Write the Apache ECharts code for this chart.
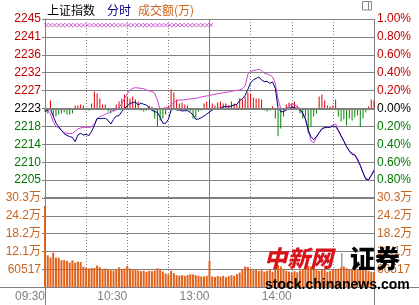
<!DOCTYPE html>
<html><head><meta charset="utf-8">
<script src="https://cdn.jsdelivr.net/npm/echarts@6/dist/echarts.min.js"></script>
<style>html,body{margin:0;padding:0;background:#fff;}#c{width:419px;height:305px;}</style>
</head><body><div id="c"></div>
<script>
// ---------- data ----------
const prevClose = 2223.0;          // reference level (0.00%)
const stepMinutes = 2;             // sampling step of the arrays below (from 09:30)
const priceLine = [
 2222.21,2222.63,2222.79,2221.14,2219.40,2218.49,2217.58,2216.75,2216.33,2216.00,
 2215.84,2214.76,2216.42,2216.83,2216.42,2216.58,2216.25,2217.33,2218.74,2220.56,
 2220.47,2220.56,2220.56,2220.06,2219.15,2220.31,2221.14,2221.22,2222.21,2223.04,
 2223.62,2224.28,2224.45,2224.61,2223.87,2224.37,2224.04,2223.87,2223.12,2222.54,
 2222.21,2222.05,2220.81,2219.32,2219.32,2220.31,2222.63,2223.04,2222.63,2222.63,
 2222.38,2222.46,2222.46,2222.05,2221.39,2220.31,2220.39,2220.72,2221.14,2221.63,
 2222.13,2222.63,2222.88,2223.04,2223.04,2223.46,2223.46,2223.46,2223.62,2223.87,
 2224.04,2224.95,2225.44,2226.27,2227.76,2229.42,2230.08,2230.49,2230.82,2230.08,
 2229.67,2229.75,2229.25,2229.58,2228.01,2223.21,2222.21,2222.21,2222.63,2222.96,
 2223.37,2223.21,2222.96,2222.63,2221.88,2220.39,2217.66,2216.00,2215.26,2216.00,
 2216.99,2217.99,2218.32,2218.32,2218.32,2218.65,2218.49,2217.49,2216.25,2214.93,
 2213.52,2212.44,2211.61,2211.45,2210.21,2208.80,2207.06,2205.41,2205.25,2206.32,
 2207.48];
const indexLine = [
 2222.63,2222.46,2221.63,2219.73,2218.57,2218.16,2217.58,2217.00,2216.83,2216.75,
 2216.83,2217.33,2217.91,2218.16,2218.32,2218.32,2218.32,2218.40,2219.23,2220.39,
 2220.97,2221.30,2221.55,2221.88,2222.30,2222.46,2222.63,2223.29,2224.20,2225.44,
 2226.68,2227.60,2228.01,2228.18,2228.09,2228.01,2227.93,2227.60,2227.35,2227.26,
 2226.77,2225.11,2222.79,2223.04,2223.21,2223.12,2223.87,2224.45,2225.03,2225.11,
 2225.11,2225.19,2225.28,2225.36,2225.53,2225.53,2225.69,2225.86,2226.02,2226.11,
 2226.19,2226.44,2226.52,2226.68,2226.77,2226.93,2227.02,2227.10,2227.26,2227.43,
 2227.51,2227.60,2227.93,2228.59,2231.57,2232.23,2232.40,2232.56,2232.73,2232.40,
 2231.74,2231.57,2231.32,2230.82,2229.25,2225.28,2222.96,2222.63,2222.96,2223.70,
 2224.12,2224.04,2223.37,2223.04,2221.63,2220.39,2217.66,2215.01,2214.43,2215.92,
 2216.99,2217.82,2218.16,2218.32,2218.49,2218.90,2219.15,2217.66,2216.00,2214.84,
 2213.52,2212.44,2211.95,2211.53,2210.62,2208.97,2207.06,2205.66,2205.33,2206.49,
 2207.89];
const strength = [
 -3,-5,8,-7,-8,-6,-5,-4,-6,-6,
 -5,3,3,4,3,-2,-2,5,17,15,
 10,4,4,-3,-5,-3,4,7,10,14,
 12,10,12,9,7,-2,-3,-2,3,2,
 -10,-18,-12,-10,-6,3,19,16,9,5,
 6,4,3,-3,-10,-9,-3,-2,5,7,
 9,5,3,6,7,5,5,3,7,5,
 4,10,9,12,16,15,11,10,10,9,
 -2,-3,-2,2,-10,-28,-20,-8,4,6,
 5,7,3,-5,-10,-8,-25,-18,-8,-5,
 12,14,8,3,2,3,9,-8,-13,-11,
 -17,-10,-12,-9,-7,-18,-10,-4,2,9,
 8];
const volume = [
 275700,107600,99700,116600,99700,99700,90800,91900,88500,82900,
 90800,82900,86300,85200,69500,65000,62800,65000,65000,72800,
 67200,58300,62800,60500,57200,56000,60500,67200,58300,62800,
 71700,62800,58300,60500,56000,53800,54900,51500,54900,53800,
 56000,63900,58300,52700,46000,42600,54900,47100,40300,38100,
 40300,38100,40300,43700,42600,40300,38100,35900,35900,38100,
 88500,36000,34000,37000,35000,38000,33000,37000,40000,38000,
 44000,49000,60000,70000,68000,62000,57000,60000,54000,57000,
 52000,55000,60000,52000,58000,75000,70000,62000,55000,52000,
 50000,54000,50000,56000,60000,66000,72000,70000,62000,58000,
 55000,60000,58000,52000,55000,58000,60000,62000,66000,70000,
 64000,60000,58000,62000,60000,66000,62000,58000,55000,52000,
 50000];
const markerMinutes = [1,4,7,10,13,16,19,22,25,28,31,34,37,40,43,46,49,52,55,58,61,64,67,70,73,76,79,82,85,88,91,94,97,100,103,106,109,112,115,118,121];
const markerLevel = 2243.7;
const priceTickLabels = ['', '2205', '2210', '2214', '2218', '2223', '2227', '2232', '2236', '2241', '2245'];
const pctTickLabels = ['', '0.80%', '0.60%', '0.40%', '0.20%', '0.00%', '0.20%', '0.40%', '0.60%', '0.80%', '1.00%'];
const volTickLabels = ['', '60517', '12.1万', '18.2万', '24.2万', '30.3万'];
const volStep = 60517;
const timeTickMinutes = [0, 60, 120, 180];
const timeTickLabels = ['09:30', '10:30', '13:00', '14:00'];

// ---------- chart ----------
const RED = '#c00000', GREEN = '#007800', GRAY = '#808080', ORANGE = '#c8641e';
const FONT = '"Liberation Sans", Arial, "Noto Sans CJK SC", sans-serif';
const toPct = p => (p / prevClose - 1) * 100;
const xOf = i => i * stepMinutes;
const pctIdx = v => Math.round((v + 1) / 0.2);
const colorOf = v => v > 0.001 ? RED : (v < -0.001 ? GREEN : '#000');

const chart = echarts.init(document.getElementById('c'), null, {renderer: 'canvas'});
const gridRect = {left: 45, width: 329};
const option = {
  animation: false,
  backgroundColor: '#fff',
  grid: [
    Object.assign({top: 19, height: 179}, gridRect),
    Object.assign({top: 198, height: 89}, gridRect)
  ],
  xAxis: [
    {type: 'value', gridIndex: 0, min: 0, max: 240, interval: 30, position: 'bottom',
     axisLine: {show: true, onZero: false, lineStyle: {color: GRAY, width: 2}},
     axisTick: {show: false}, axisLabel: {show: false},
     splitLine: {show: true, lineStyle: {color: GRAY, type: [1, 2], width: 1}}},
    {type: 'value', gridIndex: 0, min: 0, max: 240, interval: 120, position: 'top',
     axisLine: {show: false}, axisTick: {show: false}, axisLabel: {show: false},
     splitLine: {show: true, lineStyle: {color: GRAY, width: 1}}},
    {type: 'value', gridIndex: 1, min: 0, max: 240, interval: 30, position: 'bottom',
     axisLine: {show: true, onZero: false, lineStyle: {color: GRAY, width: 1}},
     axisTick: {show: false},
     axisLabel: {show: true, align: 'right', margin: 4, color: GRAY, fontSize: 12, fontFamily: FONT,
       formatter: v => { const k = timeTickMinutes.indexOf(Math.round(v)); return k >= 0 ? timeTickLabels[k] : ''; }},
     splitLine: {show: true, lineStyle: {color: GRAY, type: [1, 2], width: 1}}},
    {type: 'value', gridIndex: 1, min: 0, max: 240, interval: 120, position: 'top',
     axisLine: {show: false}, axisTick: {show: false}, axisLabel: {show: false},
     splitLine: {show: true, lineStyle: {color: GRAY, width: 1}}}
  ],
  yAxis: [
    {type: 'value', gridIndex: 0, position: 'left', min: -1, max: 1, interval: 0.2,
     axisLine: {show: true, lineStyle: {color: GRAY}}, axisTick: {show: true, length: 3, lineStyle: {color: GRAY}},
     splitLine: {show: true, lineStyle: {color: GRAY, width: 1}},
     axisLabel: {margin: 4, fontSize: 12, fontFamily: FONT, formatter: v => priceTickLabels[pctIdx(v)] || '', color: v => colorOf(v)}},
    {type: 'value', gridIndex: 0, position: 'right', min: -1, max: 1, interval: 0.2,
     axisLine: {show: true, lineStyle: {color: GRAY}}, axisTick: {show: true, length: 3, lineStyle: {color: GRAY}},
     splitLine: {show: false},
     axisLabel: {margin: 3, fontSize: 12, fontFamily: FONT, formatter: v => pctTickLabels[pctIdx(v)] || '', color: v => colorOf(v)}},
    {type: 'value', gridIndex: 0, min: -90, max: 90, show: false},
    {type: 'value', gridIndex: 1, position: 'left', min: 0, max: volStep * 5, interval: volStep,
     axisLine: {show: true, lineStyle: {color: GRAY}}, axisTick: {show: true, length: 3, lineStyle: {color: GRAY}},
     splitLine: {show: true, lineStyle: {color: GRAY, width: 1}},
     axisLabel: {margin: 4, fontSize: 12, fontFamily: FONT, color: ORANGE, formatter: v => volTickLabels[Math.round(v / volStep)] || ''}},
    {type: 'value', gridIndex: 1, position: 'right', min: 0, max: volStep * 5, interval: volStep,
     axisLine: {show: true, lineStyle: {color: GRAY}}, axisTick: {show: true, length: 3, lineStyle: {color: GRAY}},
     splitLine: {show: false},
     axisLabel: {margin: 3, fontSize: 12, fontFamily: FONT, color: ORANGE, formatter: v => volTickLabels[Math.round(v / volStep)] || ''}}
  ],
  series: [
    {type: 'bar', xAxisIndex: 0, yAxisIndex: 2, barWidth: 1, silent: true,
     data: strength.map((v, i) => [xOf(i), v]),
     itemStyle: {color: p => p.value[1] >= 0 ? '#e00000' : '#008000'},
     markLine: {silent: true, symbol: 'none', label: {show: false},
       lineStyle: {color: GRAY, width: 2, type: 'solid'}, data: [{yAxis: 0}]}},
    {type: 'line', xAxisIndex: 0, yAxisIndex: 0, symbol: 'none', silent: true,
     data: indexLine.map((p, i) => [xOf(i), toPct(p)]),
     lineStyle: {color: '#d040d0', width: 1}},
    {type: 'line', xAxisIndex: 0, yAxisIndex: 0, symbol: 'none', silent: true,
     data: priceLine.map((p, i) => [xOf(i), toPct(p)]),
     lineStyle: {color: '#000080', width: 1}},
    {type: 'scatter', xAxisIndex: 0, yAxisIndex: 0, silent: true,
     symbol: 'path://M0,0L10,10M10,0L0,10', symbolSize: 4,
     itemStyle: {color: 'rgba(0,0,0,0)', borderColor: '#cc33cc', borderWidth: 1},
     data: markerMinutes.map(m => [m, toPct(markerLevel)])},
    {type: 'bar', xAxisIndex: 2, yAxisIndex: 3, barWidth: 2, silent: true,
     data: volume.map((v, i) => [xOf(i), v]),
     itemStyle: {color: '#e0621c'}}
  ],
  graphic: [
    {type: 'text', x: 47, y: 10, z: 100, style: {text: '上证指数', fill: '#000', font: '12px "Noto Sans CJK SC"', verticalAlign: 'middle'}},
    {type: 'text', x: 107, y: 10, z: 100, style: {text: '分时', fill: '#000080', font: '12px "Noto Sans CJK SC"', verticalAlign: 'middle'}},
    {type: 'text', x: 138, y: 10, z: 100, style: {text: '成交额(万)', fill: ORANGE, font: '12px "Noto Sans CJK SC"', verticalAlign: 'middle'}},
    {type: 'rect', z: 100, shape: {x: 362.5, y: 1.5, width: 9, height: 8.5}, style: {fill: 'none', stroke: '#888', lineWidth: 1}},
    {type: 'line', z: 100, shape: {x1: 368.5, y1: 1.5, x2: 368.5, y2: 10}, style: {stroke: '#888', lineWidth: 1}},
    {type: 'line', z: 100, shape: {x1: 0, y1: 287.5, x2: 419, y2: 287.5}, style: {stroke: GRAY, lineWidth: 1}},
    {type: 'line', z: 100, shape: {x1: 45.5, y1: 287, x2: 45.5, y2: 305}, style: {stroke: GRAY, lineWidth: 1}},
    {type: 'line', z: 100, shape: {x1: 374.5, y1: 287, x2: 374.5, y2: 305}, style: {stroke: GRAY, lineWidth: 1}},
    {type: 'text', x: 264, y: 258, z: 100, style: {text: '中新网', fill: '#d8141c', font: 'italic 900 23px "Noto Sans CJK SC"', verticalAlign: 'middle'}},
    {type: 'rect', z: 100, shape: {x: 341, y: 253, width: 1.5, height: 15}, style: {fill: '#999'}},
    {type: 'text', x: 350, y: 258, z: 100, style: {text: '证券', fill: '#000', font: '900 25px "Noto Sans CJK SC"', verticalAlign: 'middle'}},
    {type: 'text', x: 265, y: 285, z: 100, style: {text: 'stock.chinanews.com', fill: '#000', font: 'bold 14px "Liberation Sans"', verticalAlign: 'middle'}}
  ]
};
chart.setOption(option);
</script></body></html>
